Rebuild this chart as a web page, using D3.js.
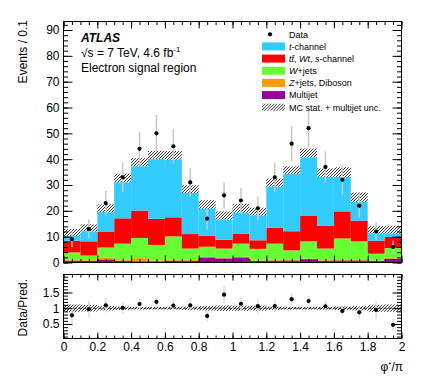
<!DOCTYPE html>
<html>
<head>
<meta charset="utf-8">
<script src="https://cdn.jsdelivr.net/npm/d3@7"></script>
<style>
  body { margin: 0; background: #fff; }
  svg { font-family: "Liberation Sans", Arial, sans-serif; }
  .axis path { display: none; }
  .axis line { stroke: #000; }
  .axis text { font-size: 12px; fill: #000; font-family: "Liberation Sans", Arial, sans-serif; }
</style>
</head>
<body>
<svg id="chart" width="424" height="386"></svg>
<script>
// bins in phi*/pi, width 0.1
var binLow = [0.0, 0.1, 0.2, 0.3, 0.4, 0.5, 0.6, 0.7, 0.8, 0.9,
              1.0, 1.1, 1.2, 1.3, 1.4, 1.5, 1.6, 1.7, 1.8, 1.9];
var binWidth = 0.1;

// stacked predictions (events / 0.1)
var multijet = [0.7, 0.6, 1.2, 0.7, 0.5, 0.5, 0.7, 0.7, 2.0, 1.6, 2.0, 0.6, 0.7, 0.8, 1.3, 0.7, 0.8, 0.8, 0.6, 1.5];
var zjets    = [0.3, 0.3, 0.6, 0.3, 1.2, 0.3, 0.3, 0.3, 0.2, 0.2, 0.2, 0.2, 0.3, 0.2, 0.2, 0.2, 0.2, 0.2, 0.2, 0.2];
var wjets    = [2.9, 1.8, 4.0, 6.3, 7.8, 6.0, 9.1, 4.4, 3.9, 3.6, 5.1, 4.5, 6.3, 3.7, 6.7, 4.5, 8.3, 7.2, 2.6, 3.9];
var topBkg   = [4.5, 5.5, 6.2, 9.8, 10.6, 10.1, 7.4, 5.6, 4.3, 3.4, 3.9, 3.3, 6.1, 7.4, 10.0, 8.9, 10.5, 8.0, 5.0, 4.3];
var tchannel = [3.2, 5.2, 9.0, 15.6, 18.7, 24.7, 24.0, 17.4, 12.1, 9.4, 9.8, 11.1, 17.5, 23.6, 24.2, 20.5, 15.2, 9.1, 4.3, 2.8];
var mcUnc    = [1.4, 1.4, 1.5, 1.7, 1.6, 1.6, 1.7, 1.5, 1.6, 1.6, 1.7, 1.5, 1.6, 1.5, 1.7, 1.6, 1.9, 1.8, 1.4, 1.5];

// observed events
var dataCounts = [9, 13, 23, 33, 44, 50, 45, 31, 17, 26, 24, 21, 33, 46, 52, 37, 32, 22, 12, 6];

var xTickValues = [0, 0.2, 0.4, 0.6, 0.8, 1.0, 1.2, 1.4, 1.6, 1.8, 2.0];
var xTickLabels = ["0", "0.2", "0.4", "0.6", "0.8", "1", "1.2", "1.4", "1.6", "1.8", "2"];
var yTickValues = [0, 10, 20, 30, 40, 50, 60, 70, 80, 90];
var rTickValues = [0.5, 1, 1.5];
var rTickLabels = ["0.5", "1", "1.5"];

var seriesKeys = ["multijet", "zjets", "wjets", "topBkg", "tchannel"];
var seriesColors = {multijet: "#990099", zjets: "#ff9900", wjets: "#66ff33", topBkg: "#ff0000", tchannel: "#33ccff"};

var svg = d3.select("#chart");
var L = 63.5, R = 401.5, T = 21.5, B = 262.5, T2 = 274.5, B2 = 338.5;

var x = d3.scaleLinear().domain([0, 2]).range([L, R]);
var y = d3.scaleLinear().domain([0, 93.3]).range([B, T]);
var yr = d3.scaleLinear().domain([0.04, 2.07]).range([B2, T2]);

var defs = svg.append("defs");
var hatch = defs.append("pattern")
  .attr("id", "hatch")
  .attr("patternUnits", "userSpaceOnUse")
  .attr("width", 3).attr("height", 3);
hatch.append("path")
  .attr("d", "M-1,1 L1,-1 M0,3 L3,0 M2,4 L4,2")
  .attr("stroke", "#000").attr("stroke-width", 0.8);

defs.append("clipPath").attr("id", "mainClip")
  .append("rect").attr("x", L).attr("y", T).attr("width", R - L).attr("height", B - T);
defs.append("clipPath").attr("id", "ratioClip")
  .append("rect").attr("x", L).attr("y", T2).attr("width", R - L).attr("height", B2 - T2);

var rows = binLow.map(function(lo, i) {
  return {lo: lo, multijet: multijet[i], zjets: zjets[i], wjets: wjets[i], topBkg: topBkg[i], tchannel: tchannel[i]};
});
var stacked = d3.stack().keys(seriesKeys)(rows);
var totals = rows.map(function(r) {
  return seriesKeys.reduce(function(s, k) { return s + r[k]; }, 0);
});

/** main panel **/
var main = svg.append("g").attr("clip-path", "url(#mainClip)");

main.selectAll("g.layer")
  .data(stacked)
  .enter().append("g")
  .attr("class", "layer")
  .attr("fill", function(d) { return seriesColors[d.key]; })
  .selectAll("rect")
  .data(function(d) { return d; })
  .enter().append("rect")
  .attr("x", function(d) { return x(d.data.lo); })
  .attr("width", function(d) { return x(d.data.lo + binWidth) - x(d.data.lo); })
  .attr("y", function(d) { return y(d[1]); })
  .attr("height", function(d) { return y(d[0]) - y(d[1]); });

// MC uncertainty band
var band = main.append("g");
band.selectAll("rect.bg")
  .data(binLow)
  .enter().append("rect")
  .attr("x", function(d) { return x(d); })
  .attr("width", function(d) { return x(d + binWidth) - x(d); })
  .attr("y", function(d, i) { return y(totals[i] + mcUnc[i]); })
  .attr("height", function(d, i) { return y(totals[i] - mcUnc[i]) - y(totals[i] + mcUnc[i]); })
  .attr("fill", "#fff");
band.selectAll("rect.h")
  .data(binLow)
  .enter().append("rect")
  .attr("x", function(d) { return x(d); })
  .attr("width", function(d) { return x(d + binWidth) - x(d); })
  .attr("y", function(d, i) { return y(totals[i] + mcUnc[i]); })
  .attr("height", function(d, i) { return y(totals[i] - mcUnc[i]) - y(totals[i] + mcUnc[i]); })
  .attr("fill", "url(#hatch)");

// data points
main.selectAll("line.err")
  .data(dataCounts)
  .enter().append("line")
  .attr("x1", function(d, i) { return x(binLow[i] + binWidth / 2); })
  .attr("x2", function(d, i) { return x(binLow[i] + binWidth / 2); })
  .attr("y1", function(d) { return y(d - Math.sqrt(d)); })
  .attr("y2", function(d) { return y(d + Math.sqrt(d)); })
  .attr("stroke", "#c8c8c8").attr("stroke-width", 1.5);
main.selectAll("circle")
  .data(dataCounts)
  .enter().append("circle")
  .attr("cx", function(d, i) { return x(binLow[i] + binWidth / 2); })
  .attr("cy", function(d) { return y(d); })
  .attr("r", 2.1)
  .attr("fill", "#000");

/** ratio panel **/
var ratio = svg.append("g").attr("clip-path", "url(#ratioClip)");
ratio.selectAll("rect")
  .data(binLow)
  .enter().append("rect")
  .attr("x", function(d) { return x(d); })
  .attr("width", function(d) { return x(d + binWidth) - x(d); })
  .attr("y", function(d, i) { return yr(1 + mcUnc[i] / totals[i]); })
  .attr("height", function(d, i) { return yr(1 - mcUnc[i] / totals[i]) - yr(1 + mcUnc[i] / totals[i]); })
  .attr("fill", "url(#hatch)");
ratio.append("line")
  .attr("x1", L).attr("x2", R)
  .attr("y1", yr(1)).attr("y2", yr(1))
  .attr("stroke", "#000").attr("stroke-width", 0.8)
  .attr("stroke-dasharray", "3,2");
ratio.selectAll("line.err")
  .data(dataCounts)
  .enter().append("line")
  .attr("x1", function(d, i) { return x(binLow[i] + binWidth / 2); })
  .attr("x2", function(d, i) { return x(binLow[i] + binWidth / 2); })
  .attr("y1", function(d, i) { return yr((d - Math.sqrt(d)) / totals[i]); })
  .attr("y2", function(d, i) { return yr((d + Math.sqrt(d)) / totals[i]); })
  .attr("stroke", "#dcdcdc").attr("stroke-width", 1.5);
ratio.selectAll("circle")
  .data(dataCounts)
  .enter().append("circle")
  .attr("cx", function(d, i) { return x(binLow[i] + binWidth / 2); })
  .attr("cy", function(d, i) { return yr(d / totals[i]); })
  .attr("r", 2.1)
  .attr("fill", "#000");

/** axes **/
function ticks(axis, pos, values, size, fmt) {
  var g = svg.append("g").attr("class", "axis").attr("transform", pos)
    .call(axis.tickValues(values).tickSizeInner(size).tickSizeOuter(0).tickPadding(4)
      .tickFormat(fmt || ""));
  return g;
}
var xMinor = d3.range(0, 2.001, 0.05);
var yMinor = d3.range(0, 93, 2);
var rMinor = d3.range(0.1, 2.05, 0.1);
var xFmt = function(d) { return xTickLabels[xTickValues.indexOf(d)]; };
var rFmt = function(d) { return rTickLabels[rTickValues.indexOf(d)]; };

// main panel ticks
ticks(d3.axisBottom(x), "translate(0," + B + ")", xTickValues, -7);
ticks(d3.axisBottom(x), "translate(0," + B + ")", xMinor, -3.5);
ticks(d3.axisTop(x), "translate(0," + T + ")", xTickValues, -7);
ticks(d3.axisTop(x), "translate(0," + T + ")", xMinor, -3.5);
ticks(d3.axisLeft(y), "translate(" + L + ",0)", yTickValues, -9, d3.format("d"));
ticks(d3.axisLeft(y), "translate(" + L + ",0)", yMinor, -4.5);
ticks(d3.axisRight(y), "translate(" + R + ",0)", yTickValues, -9);
ticks(d3.axisRight(y), "translate(" + R + ",0)", yMinor, -4.5);

// ratio panel ticks
ticks(d3.axisBottom(x), "translate(0," + B2 + ")", xTickValues, -6, xFmt);
ticks(d3.axisBottom(x), "translate(0," + B2 + ")", xMinor, -3);
ticks(d3.axisTop(x), "translate(0," + T2 + ")", xTickValues, -6);
ticks(d3.axisTop(x), "translate(0," + T2 + ")", xMinor, -3);
ticks(d3.axisLeft(yr), "translate(" + L + ",0)", rTickValues, -9, rFmt);
ticks(d3.axisLeft(yr), "translate(" + L + ",0)", rMinor, -4.5);
ticks(d3.axisRight(yr), "translate(" + R + ",0)", rTickValues, -9);
ticks(d3.axisRight(yr), "translate(" + R + ",0)", rMinor, -4.5);

// frames
svg.append("rect").attr("x", L).attr("y", T).attr("width", R - L).attr("height", B - T)
  .attr("fill", "none").attr("stroke", "#000");
svg.append("rect").attr("x", L).attr("y", T2).attr("width", R - L).attr("height", B2 - T2)
  .attr("fill", "none").attr("stroke", "#000");

/** titles **/
svg.append("text")
  .attr("transform", "translate(27,20) rotate(-90)")
  .attr("text-anchor", "end")
  .style("font-size", "12px")
  .text("Events / 0.1");
svg.append("text")
  .attr("transform", "translate(27,279) rotate(-90)")
  .attr("text-anchor", "end")
  .style("font-size", "12px")
  .text("Data/Pred.");
var xt = svg.append("text")
  .attr("x", 403).attr("y", 371)
  .attr("text-anchor", "end")
  .style("font-size", "12px");
xt.append("tspan").text("\u03c6");
xt.append("tspan").attr("dy", -4).style("font-size", "8px").text("*");
xt.append("tspan").attr("dy", 4).text("/\u03c0");

svg.append("text")
  .attr("x", 81).attr("y", 42)
  .style("font-size", "12px").style("font-weight", "bold").style("font-style", "italic")
  .text("ATLAS");
var lumi = svg.append("text").attr("x", 81).attr("y", 57).style("font-size", "12px");
lumi.append("tspan").text("\u221as = 7 TeV, 4.6 fb");
lumi.append("tspan").attr("dy", -5).style("font-size", "8px").text("-1");
svg.append("text")
  .attr("x", 81).attr("y", 72)
  .style("font-size", "12px")
  .text("Electron signal region");

/** legend **/
var legendRows = [
  {type: "data", parts: [["Data", false]]},
  {type: "box", key: "tchannel", parts: [["t", true], ["-channel", false]]},
  {type: "box", key: "topBkg", parts: [["t", true], ["t\u0304", true], [", ", false], ["Wt", true], [", ", false], ["s", true], ["-channel", false]]},
  {type: "box", key: "wjets", parts: [["W", true], ["+jets", false]]},
  {type: "box", key: "zjets", parts: [["Z", true], ["+jets, Diboson", false]]},
  {type: "box", key: "multijet", parts: [["Multijet", false]]},
  {type: "hatch", parts: [["MC stat. + multijet unc.", false]]}
];
var legend = svg.append("g").attr("transform", "translate(262,34.3)");
legendRows.forEach(function(row, i) {
  var g = legend.append("g").attr("transform", "translate(0," + (i * 12.15) + ")");
  if (row.type === "data") {
    g.append("circle").attr("cx", 8).attr("cy", 0).attr("r", 2.1).attr("fill", "#000");
  } else if (row.type === "box") {
    g.append("rect").attr("x", 0).attr("y", -4).attr("width", 23).attr("height", 8)
      .attr("fill", seriesColors[row.key]);
  } else {
    g.append("rect").attr("x", 0).attr("y", -3.5).attr("width", 23).attr("height", 7)
      .attr("fill", "url(#hatch)");
  }
  var t = g.append("text").attr("x", 27).attr("y", 3.3).style("font-size", "9px");
  row.parts.forEach(function(p) {
    t.append("tspan").style("font-style", p[1] ? "italic" : "normal").text(p[0]);
  });
});
</script>
</body>
</html>
